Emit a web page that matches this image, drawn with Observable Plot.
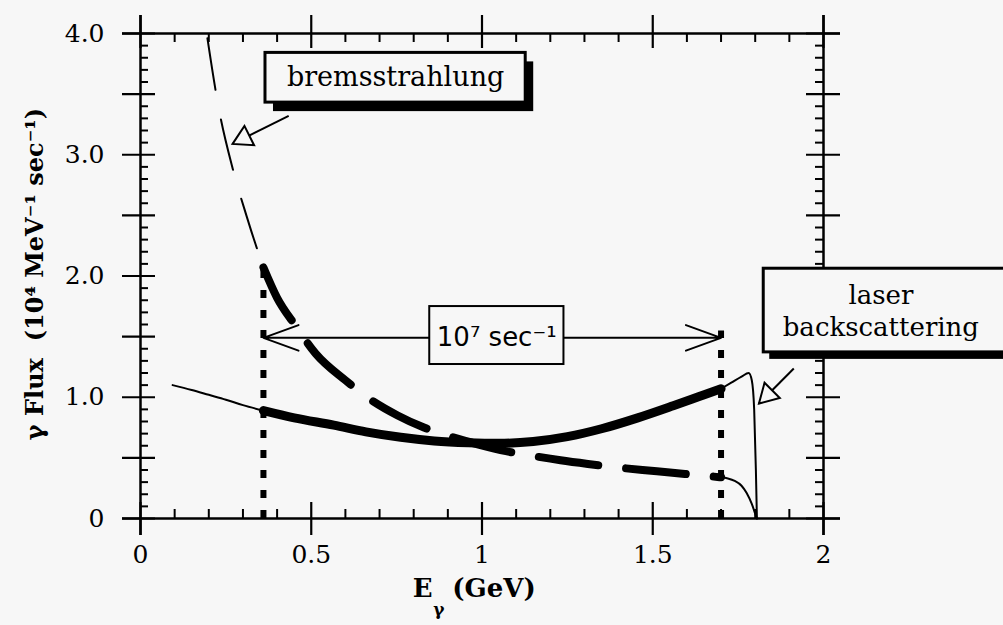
<!DOCTYPE html>
<html>
<head>
<meta charset="utf-8">
<script src="https://cdn.jsdelivr.net/npm/d3@7"></script>
<script src="https://cdn.jsdelivr.net/npm/@observablehq/plot@0.6"></script>
<style>
  html, body { margin: 0; padding: 0; background: #f7f7f7; }
  #chart svg { display: block; }
</style>
</head>
<body>
<div id="chart"></div>
<script>
// ---- data ----
// bremsstrahlung, thin dashed part (outside the tagging window)
const bremThinX = [0.196, 0.23, 0.27, 0.31, 0.343, 0.36];
const bremThinY = [3.96, 3.37, 2.885, 2.5, 2.21, 2.07];
// bremsstrahlung, thick dashed part (inside the tagging window)
const bremThickX = [0.36, 0.40, 0.454, 0.513, 0.60, 0.674, 0.753, 0.83, 0.914, 0.99, 1.07, 1.151, 1.23, 1.31, 1.40, 1.47, 1.55, 1.64, 1.70];
const bremThickY = [2.07, 1.82, 1.59, 1.36, 1.14, 0.98, 0.85, 0.75, 0.67, 0.61, 0.555, 0.515, 0.48, 0.45, 0.42, 0.40, 0.38, 0.355, 0.34];
// bremsstrahlung endpoint tail (thin solid)
const bremTailX = [1.70, 1.72, 1.74, 1.76, 1.775, 1.79, 1.80, 1.805];
const bremTailY = [0.34, 0.33, 0.31, 0.27, 0.21, 0.12, 0.04, 0.0];
// laser backscattering, thin part below the window
const laserLowX = [0.094, 0.15, 0.20, 0.25, 0.30, 0.36];
const laserLowY = [1.10, 1.06, 1.02, 0.98, 0.935, 0.89];
// laser backscattering, thick part inside the window
const laserMidX = [0.36, 0.45, 0.566, 0.66, 0.762, 0.86, 0.96, 1.05, 1.15, 1.25, 1.35, 1.456, 1.56, 1.64, 1.70];
const laserMidY = [0.89, 0.83, 0.77, 0.715, 0.67, 0.64, 0.625, 0.62, 0.635, 0.675, 0.74, 0.83, 0.93, 1.01, 1.07];
// laser backscattering, thin part above the window (Compton edge)
const laserHighX = [1.70, 1.73, 1.76, 1.781, 1.79, 1.797, 1.802, 1.805];
const laserHighY = [1.07, 1.12, 1.17, 1.20, 1.14, 0.90, 0.40, 0.0];
// tagging window edges and their heights
const windowEdges = [0.36, 1.70];
const windowTops = [2.08, 1.58];
// axis ticks and labels
const xTickLabels = [0, 0.5, 1, 1.5, 2];
const xTickText = ["0", "0.5", "1", "1.5", "2"];
const yTickLabels = [0, 1, 2, 3, 4];
const yTickText = ["0", "1.0", "2.0", "3.0", "4.0"];
const xMajor = [0, 0.5, 1, 1.5, 2];
const yMajor = [0, 0.5, 1, 1.5, 2, 2.5, 3, 3.5, 4];

const xMinor = d3.range(1, 20).map(i => i / 10).filter(v => Math.abs(v * 2 - Math.round(v * 2)) > 1e-9);
const yMinor = d3.range(1, 40).map(i => i / 10).filter(v => Math.abs(v * 2 - Math.round(v * 2)) > 1e-9);

const pts = (xs, ys) => xs.map((x, i) => ({x, y: ys[i]}));

const BG = "#f7f7f7";
const SERIF = "'DejaVu Serif', 'Liberation Serif', serif";
const SANS = "'DejaVu Sans', 'Liberation Sans', sans-serif";

const W = 1003, H = 625;
const mL = 140, mR = 180, mT = 33, mB = 107;
const pw = W - mL - mR, ph = H - mT - mB;

const chart = Plot.plot({
  width: W, height: H,
  marginLeft: mL, marginRight: mR, marginTop: mT, marginBottom: mB,
  x: {domain: [0, 2], axis: null},
  y: {domain: [0, 4], axis: null},
  style: {background: BG, color: "black", overflow: "visible"},
  marks: [
    // frame lines (extended past the corners)
    Plot.ruleX([0, 2], {insetTop: -18, insetBottom: -17, stroke: "black", strokeWidth: 2.5}),
    Plot.ruleY([0, 4], {insetLeft: -18, insetRight: -17, stroke: "black", strokeWidth: 2.5}),
    // bottom ticks
    Plot.tickX(xMinor, {insetTop: ph - 9, stroke: "black", strokeWidth: 2}),
    Plot.tickX(xMajor, {insetTop: ph - 16, insetBottom: -17, stroke: "black", strokeWidth: 2.2}),
    // top ticks
    Plot.tickX(xMinor, {insetBottom: ph - 9, stroke: "black", strokeWidth: 2}),
    Plot.tickX(xMajor, {insetBottom: ph - 15, insetTop: -18, stroke: "black", strokeWidth: 2.2}),
    // left ticks
    Plot.tickY(yMinor, {insetRight: pw - 8, stroke: "black", strokeWidth: 2}),
    Plot.tickY(yMajor, {insetRight: pw - 15, insetLeft: -18, stroke: "black", strokeWidth: 2.2}),
    // right ticks
    Plot.tickY(yMinor, {insetLeft: pw - 8, stroke: "black", strokeWidth: 2}),
    Plot.tickY(yMajor, {insetLeft: pw - 17, insetRight: -17, stroke: "black", strokeWidth: 2.2}),
    // tick labels
    Plot.text(yTickLabels, {y: d => d, frameAnchor: "left", dx: -36, textAnchor: "end",
      text: (d, i) => yTickText[i], fontSize: 25, fontFamily: SERIF, fill: "black"}),
    Plot.text(xTickLabels, {x: d => d, frameAnchor: "bottom", dy: 44,
      text: (d, i) => xTickText[i], fontSize: 25, fontFamily: SERIF, fill: "black"}),
    // axis titles
    Plot.text(["γ Flux  (10⁴ MeV⁻¹ sec⁻¹)"], {frameAnchor: "left", textAnchor: "middle", dx: -105, dy: -2, rotate: -90,
      fontSize: 24, fontWeight: "bold", fontFamily: SERIF, fill: "black"}),
    Plot.text(["E"], {x: 0.797, frameAnchor: "bottom", dy: 78, textAnchor: "start",
      fontSize: 26, fontWeight: "bold", fontFamily: SERIF, fill: "black"}),
    Plot.text(["γ"], {x: 0.857, frameAnchor: "bottom", dy: 96, textAnchor: "start",
      fontSize: 17, fontWeight: "bold", fontFamily: SERIF, fill: "black"}),
    Plot.text(["(GeV)"], {x: 0.913, frameAnchor: "bottom", dy: 78, textAnchor: "start",
      fontSize: 26, fontWeight: "bold", fontFamily: SERIF, fill: "black"}),

    // curves
    Plot.line(pts(laserLowX, laserLowY), {x: "x", y: "y", curve: "monotone-x", stroke: "black", strokeWidth: 2}),
    Plot.line(pts(laserMidX, laserMidY), {x: "x", y: "y", curve: "monotone-x", stroke: "black", strokeWidth: 9}),
    Plot.line(pts(laserHighX, laserHighY), {x: "x", y: "y", curve: "monotone-x", stroke: "black", strokeWidth: 2}),
    Plot.line(pts(bremThinX, bremThinY), {x: "x", y: "y", curve: "monotone-x", stroke: "black", strokeWidth: 2, strokeDasharray: "52,30"}),
    Plot.line(pts(bremThickX, bremThickY), {x: "x", y: "y", curve: "monotone-x", stroke: "black", strokeWidth: 8, strokeDasharray: "60,28"}),
    Plot.line(pts(bremTailX, bremTailY), {x: "x", y: "y", curve: "monotone-x", stroke: "black", strokeWidth: 2}),

    // tagging window edges (dotted)
    Plot.ruleX(windowEdges, {x: d => d, y1: 0, y2: (d, i) => windowTops[i], stroke: "black", strokeWidth: 6, strokeDasharray: "8,12", insetBottom: -4}),

    // double arrow across the window
    Plot.arrow(windowEdges, {x1: 1.043, x2: d => d, y1: 1.49, y2: 1.49, stroke: "black", strokeWidth: 2, headLength: 28, headAngle: 40}),
    Plot.rect([0], {x1: 0.847, x2: 1.24, y1: 1.27, y2: 1.748, fill: BG, stroke: "black", strokeWidth: 2}),
    Plot.text(["10⁷ sec⁻¹"], {x: 1.043, y: 1.49, fontSize: 26, fontFamily: SANS, fill: "black"}),

    // bremsstrahlung label box with shadow
    Plot.rect([0], {x1: 0.366, x2: 1.128, y1: 3.43, y2: 3.84, fill: "black", dx: 8, dy: 9}),
    Plot.rect([0], {x1: 0.366, x2: 1.128, y1: 3.43, y2: 3.84, fill: BG, stroke: "black", strokeWidth: 3}),
    Plot.text(["bremsstrahlung"], {x: 0.747, y: 3.635, fontSize: 27, fontFamily: SERIF, fill: "black"}),
    Plot.link([0], {x1: 0.434, y1: 3.32, x2: 0.27, y2: 3.09, stroke: "black", strokeWidth: 2}),
    Plot.dot([0], {x: 0.27, y: 3.09, symbol: "triangle", r: 8, rotate: 243.4, dx: 11, dy: -5.5, fill: BG, stroke: "black", strokeWidth: 2}),

    // laser backscattering label box with shadow
    Plot.rect([0], {x1: 1.825, x2: 2.56, y1: 1.37, y2: 2.06, fill: "black", dx: 6, dy: 7}),
    Plot.rect([0], {x1: 1.825, x2: 2.56, y1: 1.37, y2: 2.06, fill: BG, stroke: "black", strokeWidth: 3}),
    Plot.text(["laser\nbackscattering"], {x: 2.168, y: 1.72, fontSize: 26, lineHeight: 1.2, fontFamily: SERIF, fill: "black"}),
    Plot.link([0], {x1: 1.913, y1: 1.237, x2: 1.811, y2: 0.948, stroke: "black", strokeWidth: 2}),
    Plot.dot([0], {x: 1.811, y: 0.948, symbol: "triangle", r: 8, rotate: 225, dx: 8.8, dy: -8.8, fill: BG, stroke: "black", strokeWidth: 2})
  ]
});
document.getElementById("chart").appendChild(chart);
</script>
</body>
</html>
